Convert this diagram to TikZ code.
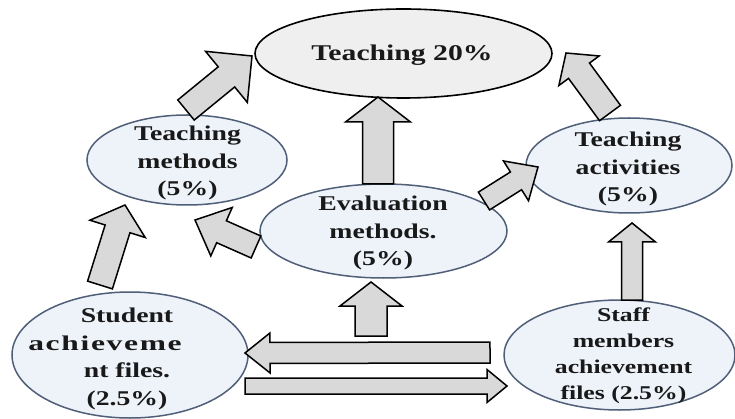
\documentclass[tikz,border=0pt]{standalone}
\usepackage{fontspec}
\setmainfont{Liberation Serif}[FakeStretch=1.32]
\newfontfamily\widefont{Liberation Serif}[FakeStretch=1.5,LetterSpace=8]
\usetikzlibrary{calc,shapes.geometric}
\definecolor{arrfill}{RGB}{217,217,217}
\definecolor{topfill}{RGB}{239,239,239}
\definecolor{elfill}{RGB}{238,243,250}
\definecolor{eldraw}{RGB}{80,95,120}
\definecolor{txt}{RGB}{25,25,25}
\newcommand{\blockarr}[5]{%
  \coordinate (bh) at ($(#2)!#5!(#1)$);
  \draw[barrow] ($(#1)!#3!90:(#2)$) -- ($(bh)!#3!-90:(#1)$) -- ($(bh)!#4!-90:(#1)$)
    -- (#2) -- ($(bh)!#4!90:(#1)$) -- ($(bh)!#3!90:(#1)$) -- ($(#1)!#3!-90:(#2)$) -- cycle;}
\begin{document}
\begin{tikzpicture}[x=1pt,y=-1pt,
  topel/.style={ellipse,draw=black,fill=topfill,line width=1.6pt,inner sep=0pt},
  subel/.style={ellipse,draw=eldraw,fill=elfill,line width=1.5pt,inner sep=0pt},
  lbl/.style={align=center,text=txt,inner sep=0pt,font=\bfseries\fontsize{21}{27.5}\selectfont},
  barrow/.style={draw=black,fill=arrfill,line width=1.5pt,line join=miter}]
\useasboundingbox (0,0) rectangle (735,419);
\fill[white] (0,0) rectangle (735,419);
% ellipses
\node[topel,minimum width=297pt,minimum height=89pt] (top) at (403.5,53.5) {};
\node[subel,minimum width=200pt,minimum height=90pt] (tm) at (187,160) {};
\node[subel,minimum width=206pt,minimum height=95pt] (ta) at (629,165.5) {};
\node[subel,minimum width=247pt,minimum height=94pt] (ev) at (383.5,231) {};
\node[subel,minimum width=236pt,minimum height=126pt] (st) at (130,355) {};
\node[subel,minimum width=231pt,minimum height=110pt] (sf) at (619.5,355) {};
% texts
\node[lbl,font=\bfseries\fontsize{22.5}{27.5}\selectfont] (topt) at (402,55) {Teaching 20\%};
\node[lbl] (tmt) at (187.5,163) {Teaching\\methods\\(5\%)};
\node[lbl] (tat) at (628,169) {Teaching\\activities\\(5\%)};
\node[lbl] (evt) at (383,233) {Evaluation\\methods.\\(5\%)};
\node[lbl] (stt) at (127,359) {Student\\\makebox[0pt][c]{\kern-44pt{\widefont achieveme}}\\nt files.\\(2.5\%)};
\node[lbl,font=\bfseries\fontsize{19.5}{26}\selectfont] (sft) at (623.5,355.5) {Staff\\members\\achievement\\files (2.5\%)};
% arrow end points
\coordinate (a1s) at (186,110);  \coordinate (a1e) at (252,56);
\coordinate (a2s) at (378,184);  \coordinate (a2e) at (378,97);
\coordinate (a3s) at (610,113);  \coordinate (a3e) at (566,53);
\coordinate (a4s) at (484,201);  \coordinate (a4e) at (538,167);
\coordinate (a5s) at (256,247);  \coordinate (a5e) at (195,220);
\coordinate (a6s) at (100,285);  \coordinate (a6e) at (125,205);
\coordinate (a7s) at (632,300);  \coordinate (a7e) at (632,223);
\coordinate (a8s) at (371,336);  \coordinate (a8e) at (371,282);
\coordinate (a9s) at (490,352.5); \coordinate (a9e) at (245,353);
\coordinate (a10s) at (245,386); \coordinate (a10e) at (507,386);
% block arrows
\blockarr{a1s}{a1e}{13pt}{33pt}{33pt}
\blockarr{a2s}{a2e}{15.5pt}{32.5pt}{25pt}
\blockarr{a3s}{a3e}{13pt}{25pt}{22pt}
\blockarr{a4s}{a4e}{10.5pt}{23.5pt}{26pt}
\blockarr{a5s}{a5e}{12pt}{26.5pt}{29pt}
\blockarr{a6s}{a6e}{13pt}{29pt}{25pt}
\blockarr{a7s}{a7e}{10.5pt}{23.5pt}{19pt}
\blockarr{a8s}{a8e}{16pt}{31pt}{24pt}
\blockarr{a9s}{a9e}{10.5pt}{20pt}{25pt}
\blockarr{a10s}{a10e}{8pt}{16.5pt}{20pt}
\end{tikzpicture}
\end{document}
